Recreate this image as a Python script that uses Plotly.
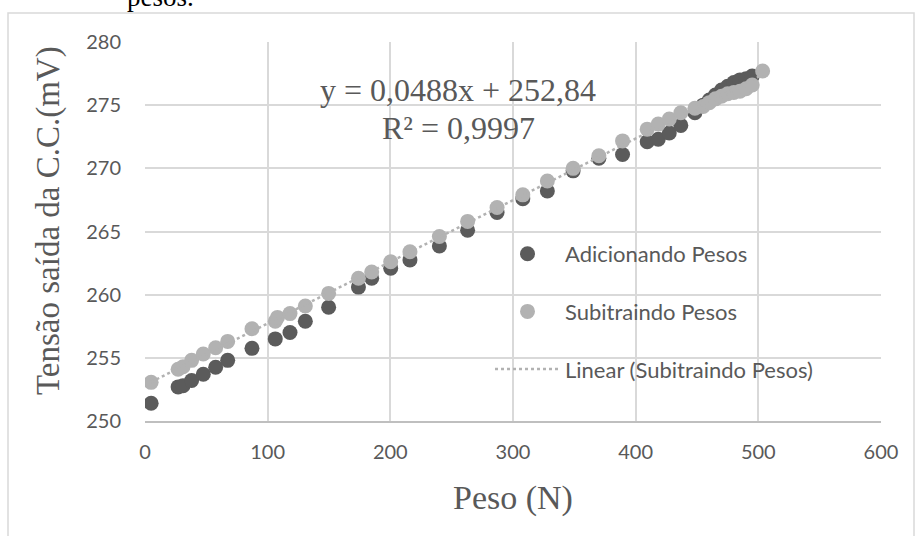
import plotly.graph_objects as go

# Adicionando Pesos (dark)
add_x = [5, 27, 31, 38, 47.5, 57.6, 67.4, 87.2, 106.2, 118.2, 130.7, 149.7, 174, 184.8,
         200.3, 216, 240, 263, 287, 308, 328, 349, 370, 389.3, 409.4, 418.4, 427.4, 436.8,
         448.3, 455, 460, 465, 470, 475, 480, 485, 490, 495]
add_y = [251.4, 252.7, 252.8, 253.2, 253.7, 254.25, 254.8, 255.75, 256.5, 257.0, 257.9, 259.0,
         260.6, 261.3, 262.1, 262.75, 263.85, 265.1, 266.5, 267.6, 268.2, 269.8, 270.8, 271.1,
         272.1, 272.3, 272.8, 273.4, 274.4, 275.0, 275.4, 275.8, 276.2, 276.5, 276.8, 277.0,
         277.1, 277.3]

# Subitraindo Pesos (light)
sub_x = [5, 27, 31, 38, 47.5, 57.6, 67.4, 87.2, 106.2, 108, 118.2, 130.7, 149.7, 174, 184.8,
         200.3, 216, 240, 263, 287, 308, 328, 349, 370, 389.3, 409.4, 418.4, 427.4, 436.8,
         448.3, 455, 460, 465, 470, 475, 480, 485, 490, 495, 503.5]
sub_y = [253.06, 254.1, 254.3, 254.8, 255.3, 255.8, 256.3, 257.3, 257.9, 258.2, 258.5, 259.1,
         260.1, 261.3, 261.8, 262.6, 263.4, 264.6, 265.8, 266.9, 267.9, 269.0, 270.0, 271.0,
         272.17, 273.1, 273.5, 273.9, 274.4, 274.75, 274.9, 275.2, 275.5, 275.7, 275.9, 276.0,
         276.1, 276.3, 276.6, 277.7]

slope = 0.0488
intercept = 252.84
eq_text = "y = 0,0488x + 252,84"
r2_text = "R² = 0,9997"
x_title = "Peso (N)"
y_title = "Tensão saída da C.C.(mV)"
caption_text = "pesos."

trend_x = [min(sub_x), max(sub_x)]
trend_y = [slope * v + intercept for v in trend_x]

DARK = "#5B5B5B"
LIGHT = "#B2B2B2"
TXT = "#595959"

W, H = 915, 536
OFF = 0  # page body margin removed by post_script
PL, PR, PT, PB = 145 - OFF, 881 - OFF, 42 - OFF, 421 - OFF


def px(x):
    return (x - OFF - PL) / (PR - PL)


def py(y):
    return (PB - (y - OFF)) / (PB - PT)


fig = go.Figure()
fig.add_trace(go.Scatter(x=add_x, y=add_y, mode="markers", name="Adicionando Pesos",
                         legendgroup="a",
                         marker=dict(color=DARK, size=15, line=dict(width=0))))
fig.add_trace(go.Scatter(x=sub_x, y=sub_y, mode="markers", name="Subitraindo Pesos",
                         legendgroup="b",
                         marker=dict(color=LIGHT, size=15, line=dict(width=0))))
fig.add_trace(go.Scatter(x=trend_x, y=trend_y, mode="lines", name="Linear (Subitraindo Pesos)",
                         legendgroup="c",
                         line=dict(color=LIGHT, width=2.5, dash="dot")))

fig.update_layout(
    width=W, height=H,
    margin=dict(l=PL, r=W - PR, t=PT, b=H - PB),
    paper_bgcolor="white", plot_bgcolor="white",
    font=dict(family="Lato, Liberation Sans, sans-serif", color=TXT, size=20),
    showlegend=True,
    legend=dict(x=px(490), y=py(233), xanchor="left", yanchor="top",
                bgcolor="rgba(0,0,0,0)", font=dict(size=22, color=TXT),
                traceorder="grouped", tracegroupgap=26, itemwidth=65),
)
fig.update_xaxes(range=[0, 600], dtick=100, tick0=0, showgrid=True, gridcolor="#D9D9D9",
                 gridwidth=1.5, zeroline=False, showline=True, linecolor="#BFBFBF",
                 linewidth=1.5, ticks="", ticklabelstandoff=12, mirror=False,
                 tickfont=dict(size=20, color=TXT))
fig.update_yaxes(range=[250, 280], dtick=5, tick0=250, showgrid=True, gridcolor="#D9D9D9",
                 gridwidth=1.5, zeroline=False, showline=False, ticks="",
                 ticklabelstandoff=23, tickfont=dict(size=20, color=TXT))

SERIF = "Liberation Serif, Times New Roman, serif"
# axis titles
fig.add_annotation(text=x_title, xref="paper", yref="paper", x=px(513), y=py(498),
                   showarrow=False, xanchor="center", yanchor="middle",
                   font=dict(family=SERIF, size=34, color=TXT))
fig.add_annotation(text=y_title, xref="paper", yref="paper", x=px(48), y=py(221),
                   showarrow=False, textangle=-90, xanchor="center", yanchor="middle",
                   font=dict(family=SERIF, size=33, color=TXT))
# equation
fig.add_annotation(text=eq_text, xref="paper", yref="paper", x=px(458), y=py(90),
                   showarrow=False, xanchor="center", yanchor="middle",
                   font=dict(family=SERIF, size=32, color=TXT))
fig.add_annotation(text=r2_text, xref="paper", yref="paper", x=px(458), y=py(128),
                   showarrow=False, xanchor="center", yanchor="middle",
                   font=dict(family=SERIF, size=32, color=TXT))
# caption text above the chart (cut off at the top, as in the source)
fig.add_annotation(text=caption_text, xref="paper", yref="paper", x=px(160), y=py(14),
                   showarrow=False, xanchor="center", yanchor="bottom",
                   font=dict(family=SERIF, size=27, color="black"))

# chart frame
fig.add_shape(type="rect", xref="paper", yref="paper",
              x0=px(8), x1=px(914), y0=py(570), y1=py(13),
              line=dict(color="#D9D9D9", width=1.5), fillcolor="rgba(0,0,0,0)", layer="below")

fig.write_html("out.html", config={"displayModeBar": False},
               post_script="document.body.style.margin='0';document.body.style.overflow='hidden';")
